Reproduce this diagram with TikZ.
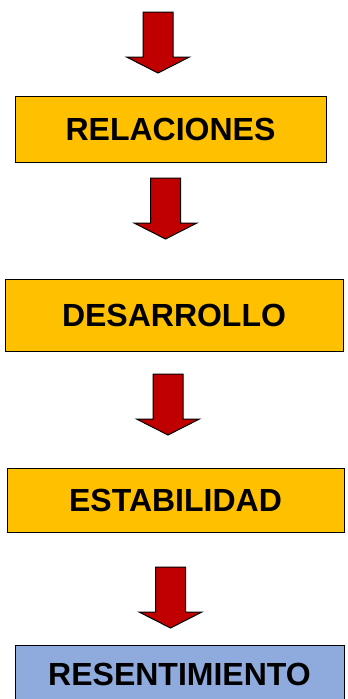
\documentclass[tikz,border=0pt]{standalone}
\usepackage{fontspec}
\setmainfont{Liberation Sans}
\definecolor{boxorange}{HTML}{FFC000}
\definecolor{boxblue}{HTML}{8FAADC}
\definecolor{arrowred}{HTML}{C00000}
\begin{document}
\begin{tikzpicture}[x=1pt,y=-1pt,
  stagebox/.style={draw=black,line width=1pt,fill=boxorange,inner sep=0pt,
    font=\fontsize{32}{32}\selectfont\bfseries},
  endbox/.style={stagebox,fill=boxblue},
  blockarrow/.pic={
    \draw[fill=arrowred,line width=1pt,line join=miter]
      (-15,0) -- (15,0) -- (15,45) -- (31.5,45) -- (0,61) -- (-31.5,45) -- (-15,45) -- cycle;
  }]
\useasboundingbox (0,0) rectangle (348,699);
\clip (0,0) rectangle (348,699);
\node[stagebox,minimum width=311pt,minimum height=66pt] (rel) at (170.5,129) {RELACIONES};
\node[stagebox,minimum width=338pt,minimum height=72pt] (des) at (174,315) {DESARROLLO};
\node[stagebox,minimum width=337pt,minimum height=64pt] (est) at (175.5,500) {ESTABILIDAD};
\node[endbox,minimum width=329pt,minimum height=59pt] (res) at (179.5,674.5) {RESENTIMIENTO};
\pic (a1) at (158,12) {blockarrow};
\pic (a2) at (165.5,178) {blockarrow};
\pic (a3) at (168,374) {blockarrow};
\pic (a4) at (170.5,567) {blockarrow};
\end{tikzpicture}
\end{document}
